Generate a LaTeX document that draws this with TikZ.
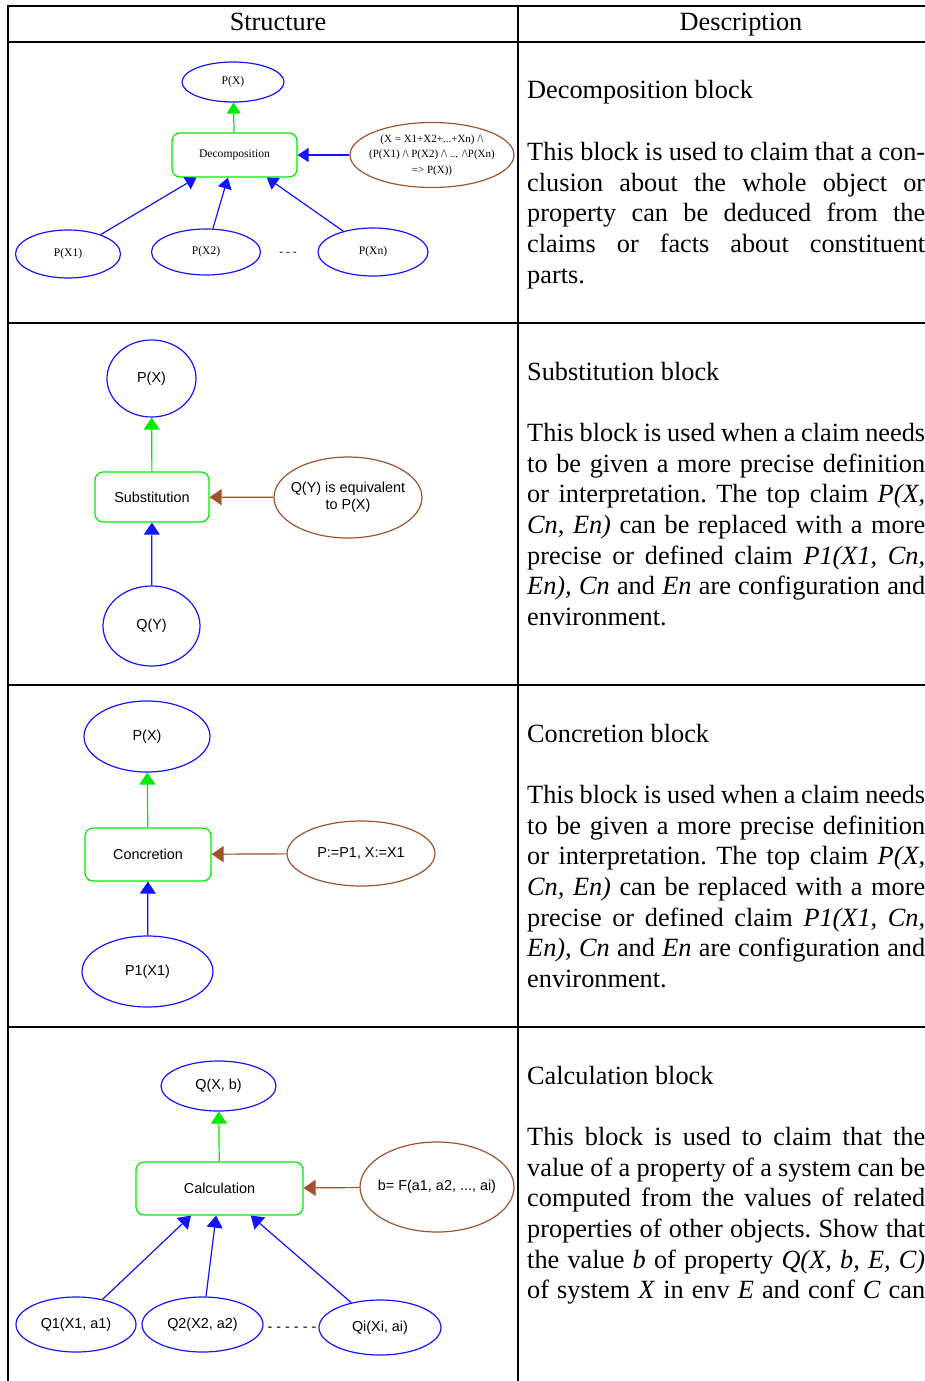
\documentclass[tikz,border=0pt]{standalone}
\usepackage{fontspec}
\setmainfont{Liberation Serif}
\newfontfamily\arialfont{Liberation Sans}
\usetikzlibrary{shapes.geometric,arrows.meta}
\definecolor{nodeblue}{RGB}{20,20,255}
\definecolor{nodegreen}{RGB}{0,235,0}
\definecolor{nodebrown}{RGB}{160,82,45}
% a justified line of the description column, and a plain one
\newcommand\jline[1]{\makebox[398pt][s]{\frenchspacing\spaceskip=0pt\xspaceskip=0pt #1}}
\newcommand\pline[1]{{\frenchspacing\spaceskip=0pt\xspaceskip=0pt #1}}

\begin{document}
\begin{tikzpicture}[x=1pt,y=-1pt,
  claim/.style={ellipse, draw=nodeblue, line width=1.2pt, inner sep=0pt, align=center},
  premise/.style={ellipse, draw=nodebrown, line width=1.2pt, inner sep=-7pt, align=center},
  block/.style={rectangle, rounded corners=8pt, draw=nodegreen, line width=1.2pt, inner sep=0pt},
  serifsmall/.style={font=\fontsize{11.6}{14}\selectfont},
  sanssmall/.style={font=\arialfont\fontsize{14.4}{16.5}\selectfont},
  tipbig/.style={-{Triangle[width=16pt,length=12pt]}},
  tipsmall/.style={-{Triangle[width=14pt,length=11pt]}},
  greenarrow/.style={draw=nodegreen, fill=nodegreen, line width=1.2pt},
  bluearrow/.style={draw=nodeblue, fill=nodeblue, line width=1.2pt},
  brownarrow/.style={draw=nodebrown, fill=nodebrown, line width=1.2pt},
  desc/.style={anchor=base west, inner sep=0pt, align=left, text width=398pt,
    font=\fontsize{26.3}{30.7}\selectfont},
  head/.style={anchor=base, inner sep=0pt, font=\fontsize{26.3}{30.7}\selectfont},
  rule/.style={line width=2pt, draw=black}
]
\useasboundingbox (0,0) rectangle (925,1381);

% table frame
\draw[rule] (8,6) -- (925,6);
\draw[rule] (8,42) -- (925,42);
\draw[rule] (8,323) -- (925,323);
\draw[rule] (8,685) -- (925,685);
\draw[rule] (8,1027) -- (925,1027);
\draw[rule] (8,5) -- (8,1381);
\draw[rule] (518,5) -- (518,1381);

% header
\node[head] (hstruct) at (278,31) {Structure};
\node[head] (hdesc) at (741,31) {Description};

% ---------- Decomposition ----------
\node[claim, serifsmall, minimum width=102, minimum height=40] (dpx) at (233,82) {P(X)};
\node[block, serifsmall, minimum width=125, minimum height=44] (dec) at (234.5,155) {Decomposition};
\node[premise, font=\fontsize{11}{15.5}\selectfont, minimum width=164, minimum height=65] (dprem) at (432,155)
  {(X = X1+X2+...+Xn) /\textbackslash\\(P(X1) /\textbackslash{} P(X2) /\textbackslash{} ... /\textbackslash P(Xn)\\=> P(X))};
\node[claim, serifsmall, minimum width=105, minimum height=48] (dpx1) at (68,254) {P(X1)};
\node[claim, serifsmall, minimum width=109, minimum height=46] (dpx2) at (206,252) {P(X2)};
\node[claim, serifsmall, minimum width=110, minimum height=48] (dpxn) at (373,252) {P(Xn)};
\node[serifsmall, inner sep=0pt] (ddots) at (288,254) {- - -};

\draw[greenarrow, tipsmall] (dec) -- (dpx);
\draw[bluearrow, tipsmall] (dprem) -- (dec);
\draw[bluearrow, tipsmall] (dpx1) -- (dec);
\draw[bluearrow, tipsmall] (dpx2) -- (dec);
\draw[bluearrow, tipsmall] (dpxn) -- (dec);

\node[desc] (ddesc) at (527,99) {\pline{Decomposition block}\\~\\
\jline{This block is used to claim that a con-}\\
\jline{clusion about the whole object or}\\
\jline{property can be deduced from the}\\
\jline{claims or facts about constituent}\\
\pline{parts.}};

% ---------- Substitution ----------
\node[claim, sanssmall, minimum width=89, minimum height=77] (spx) at (151.5,378.5) {P(X)};
\node[block, sanssmall, minimum width=114, minimum height=50] (sub) at (152,497) {Substitution};
\node[premise, sanssmall, minimum width=148, minimum height=81] (sprem) at (348,497.5) {Q(Y) is equivalent\\to P(X)};
\node[claim, sanssmall, minimum width=97, minimum height=80] (sqy) at (151.5,626) {Q(Y)};

\draw[greenarrow, tipbig] (sub) -- (spx);
\draw[brownarrow, tipbig] (sprem) -- (sub);
\draw[bluearrow, tipbig] (sqy) -- (sub);

\node[desc] (sdesc) at (527,380) {\pline{Substitution block}\\~\\
\jline{This block is used when a claim needs}\\
\jline{to be given a more precise definition}\\
\jline{or interpretation. The top claim \textit{P(X,}}\\
\jline{\textit{Cn, En)} can be replaced with a more}\\
\jline{precise or defined claim \textit{P1(X1, Cn,}}\\
\jline{\textit{En), Cn} and \textit{En} are configuration and}\\
\pline{environment.}};

% ---------- Concretion ----------
\node[claim, sanssmall, minimum width=126, minimum height=71] (cpx) at (147,736.5) {P(X)};
\node[block, sanssmall, minimum width=126, minimum height=53] (con) at (148,854.5) {Concretion};
\node[premise, sanssmall, minimum width=148, minimum height=65] (cprem) at (361,853.5) {P:=P1, X:=X1};
\node[claim, sanssmall, minimum width=131, minimum height=71] (cp1) at (147.5,971.5) {P1(X1)};

\draw[greenarrow, tipbig] (con) -- (cpx);
\draw[brownarrow, tipbig] (cprem) -- (con);
\draw[bluearrow, tipbig] (cp1) -- (con);

\node[desc] (cdesc) at (527,742) {\pline{Concretion block}\\~\\
\jline{This block is used when a claim needs}\\
\jline{to be given a more precise definition}\\
\jline{or interpretation. The top claim \textit{P(X,}}\\
\jline{\textit{Cn, En)} can be replaced with a more}\\
\jline{precise or defined claim \textit{P1(X1, Cn,}}\\
\jline{\textit{En), Cn} and \textit{En} are configuration and}\\
\pline{environment.}};

% ---------- Calculation ----------
\node[claim, sanssmall, minimum width=115, minimum height=50] (kq) at (218.5,1086) {Q(X, b)};
\node[block, sanssmall, minimum width=167, minimum height=53] (calc) at (219.5,1188.5) {Calculation};
\node[premise, sanssmall, minimum width=154, minimum height=90] (kprem) at (437,1187) {b= F(a1, a2, ..., ai)};
\node[claim, sanssmall, minimum width=120, minimum height=55] (kq1) at (76,1324.5) {Q1(X1, a1)};
\node[claim, sanssmall, minimum width=121, minimum height=55] (kq2) at (202.5,1324.5) {Q2(X2, a2)};
\node[claim, sanssmall, minimum width=122, minimum height=55] (kqi) at (380,1327.5) {Qi(Xi, ai)};
\node[sanssmall, inner sep=0pt] (kdots) at (292,1329) {- - - - - -};

\draw[greenarrow, tipbig] (calc) -- (kq);
\draw[brownarrow, tipbig] (kprem) -- (calc);
\draw[bluearrow, tipbig] (kq1) -- (calc);
\draw[bluearrow, tipbig] (kq2) -- (calc);
\draw[bluearrow, tipbig] (kqi) -- (calc);

\node[desc] (kdesc) at (527,1084) {\pline{Calculation block}\\~\\
\jline{This block is used to claim that the}\\
\jline{value of a property of a system can be}\\
\jline{computed from the values of related}\\
\jline{properties of other objects. Show that}\\
\jline{the value \textit{b} of property \textit{Q(X, b, E, C)}}\\
\jline{of system \textit{X} in env \textit{E} and conf \textit{C} can}};
\end{tikzpicture}
\end{document}
